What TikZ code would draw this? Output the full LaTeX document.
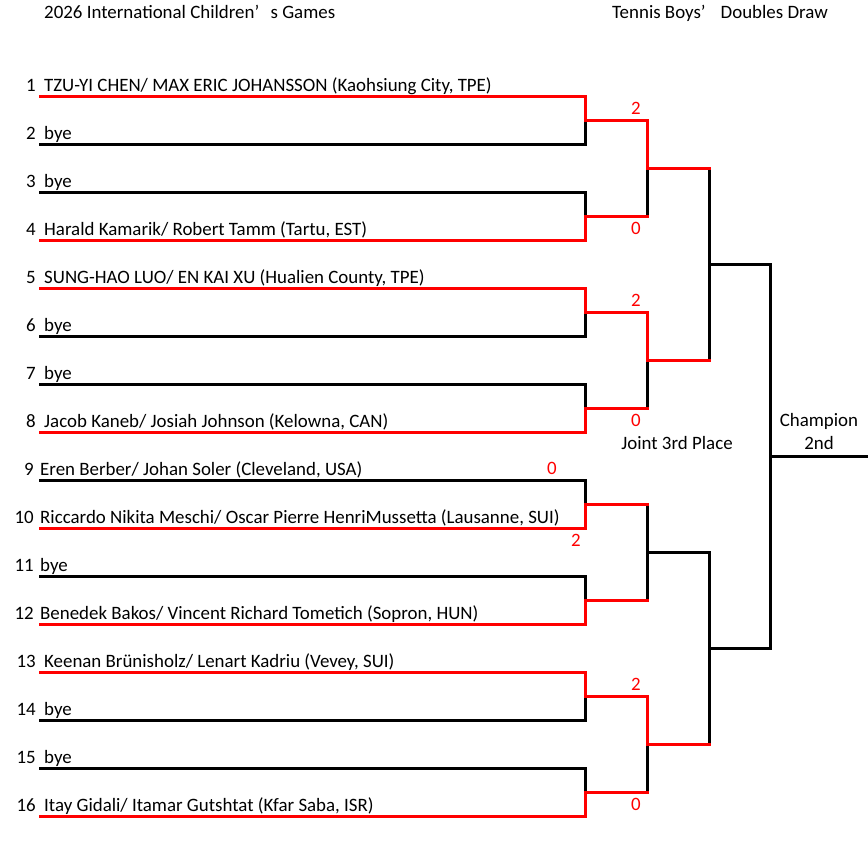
\documentclass[tikz,border=0pt]{standalone}
\usepackage{fontspec}
\setmainfont{Carlito}
\begin{document}
\begin{tikzpicture}[x=1pt,y=-1pt,
  line/.style={line width=3pt,black,line cap=rect},
  win/.style={line width=3pt,red,line cap=rect},
  seed/.style={anchor=base east,inner sep=0pt,font=\fontsize{18.9}{22}\selectfont},
  team/.style={anchor=base west,inner sep=0pt,font=\fontsize{18.9}{22}\selectfont},
  label/.style={anchor=base,inner sep=0pt,font=\fontsize{18.9}{22}\selectfont},
  score/.style={inner sep=0pt,text=red,font=\fontsize{18.9}{22}\selectfont}]
\useasboundingbox (0,0) rectangle (868,841);
% headings
\node[team] (title) at (44,18) {2026 International Children’\hspace{0.6em}s Games};
\node[team] (event) at (612,18) {Tennis Boys’\hspace{0.8em}Doubles Draw};
% line ends of the entries
\foreach \i in {1,...,16} {
  \pgfmathsetmacro\yy{96+48*(\i-1)}
  \coordinate (s\i) at (40,\yy);
  \coordinate (t\i) at (585,\yy);
}
% match points
\foreach \k in {1,...,8} {
  \pgfmathsetmacro\yy{120+96*(\k-1)}
  \coordinate (a\k) at (585,\yy);
  \coordinate (b\k) at (647,\yy);
}
\foreach \k in {1,...,4} {
  \pgfmathsetmacro\yy{168+192*(\k-1)}
  \coordinate (c\k) at (647,\yy);
  \coordinate (d\k) at (709,\yy);
}
\coordinate (e1) at (709,264);
\coordinate (e2) at (709,648);
\coordinate (f1) at (770,264);
\coordinate (f2) at (770,648);
\coordinate (g) at (770,456);
\coordinate (h) at (868,456);
% entries
\node[seed] (n1) at (36,91) {1};
\node[team] (p1) at (44,91) {TZU-YI CHEN/ MAX ERIC JOHANSSON (Kaohsiung City, TPE)};
\node[seed] (n2) at (36,139) {2};
\node[team] (p2) at (44,139) {bye};
\node[seed] (n3) at (36,187) {3};
\node[team] (p3) at (44,187) {bye};
\node[seed] (n4) at (36,235) {4};
\node[team] (p4) at (44,235) {Harald Kamarik/ Robert Tamm (Tartu, EST)};
\node[seed] (n5) at (36,283) {5};
\node[team] (p5) at (44,283) {SUNG-HAO LUO/ EN KAI XU (Hualien County, TPE)};
\node[seed] (n6) at (36,331) {6};
\node[team] (p6) at (44,331) {bye};
\node[seed] (n7) at (36,379) {7};
\node[team] (p7) at (44,379) {bye};
\node[seed] (n8) at (36,427) {8};
\node[team] (p8) at (44,427) {Jacob Kaneb/ Josiah Johnson (Kelowna, CAN)};
\node[seed] (n9) at (34,475) {9};
\node[team] (p9) at (40,475) {Eren Berber/ Johan Soler (Cleveland, USA)};
\node[seed] (n10) at (34,523) {10};
\node[team] (p10) at (40,523) {Riccardo Nikita Meschi/ Oscar Pierre HenriMussetta (Lausanne, SUI)};
\node[seed] (n11) at (34,571) {11};
\node[team] (p11) at (40,571) {bye};
\node[seed] (n12) at (34,619) {12};
\node[team] (p12) at (40,619) {Benedek Bakos/ Vincent Richard Tometich (Sopron, HUN)};
\node[seed] (n13) at (36,667) {13};
\node[team] (p13) at (44,667) {Keenan Brünisholz/ Lenart Kadriu (Vevey, SUI)};
\node[seed] (n14) at (36,715) {14};
\node[team] (p14) at (44,715) {bye};
\node[seed] (n15) at (36,763) {15};
\node[team] (p15) at (44,763) {bye};
\node[seed] (n16) at (36,811) {16};
\node[team] (p16) at (44,811) {Itay Gidali/ Itamar Gutshtat (Kfar Saba, ISR)};
% the draw
\foreach \i in {2,3,6,7,9,11,14,15} \draw[line] (s\i) -- (t\i);
\foreach \i/\j in {1/2,3/4,5/6,7/8,9/10,11/12,13/14,15/16} \draw[line] (t\i) -- (t\j);
\foreach \k in {1,...,8} \draw[line] (a\k) -- (b\k);
\foreach \i/\j in {1/2,3/4,5/6,7/8} \draw[line] (b\i) -- (b\j);
\foreach \k in {1,...,4} \draw[line] (c\k) -- (d\k);
\draw[line] (d1) -- (d2);
\draw[line] (d3) -- (d4);
\draw[line] (e1) -- (f1) -- (f2) -- (e2);
\draw[line] (g) -- (h);
% winners
\foreach \i in {1,4,5,8,10,12,13,16} \draw[win] (s\i) -- (t\i);
\draw[win] (t1) -- (a1) -- (b1);
\draw[win] (t4) -- (a2) -- (b2);
\draw[win] (t5) -- (a3) -- (b3);
\draw[win] (t8) -- (a4) -- (b4);
\draw[win] (t10) -- (a5) -- (b5);
\draw[win] (t12) -- (a6) -- (b6);
\draw[win] (t13) -- (a7) -- (b7);
\draw[win] (t16) -- (a8) -- (b8);
\draw[win] (b1) -- (c1) -- (d1);
\draw[win] (b3) -- (c2) -- (d2);
\draw[win] (b7) -- (c4) -- (d4);
% scores
\node[score] (sc1) at (636,108) {2};
\node[score] (sc2) at (636,228) {0};
\node[score] (sc3) at (636,300) {2};
\node[score] (sc4) at (636,420) {0};
\node[score] (sc5) at (552,468) {0};
\node[score] (sc6) at (576,540) {2};
\node[score] (sc7) at (636,684) {2};
\node[score] (sc8) at (636,804) {0};
% places
\node[label] (third) at (677,449) {Joint 3rd Place};
\node[label] (champ) at (819,426) {Champion};
\node[label] (second) at (819,449) {2nd};
\end{tikzpicture}
\end{document}
